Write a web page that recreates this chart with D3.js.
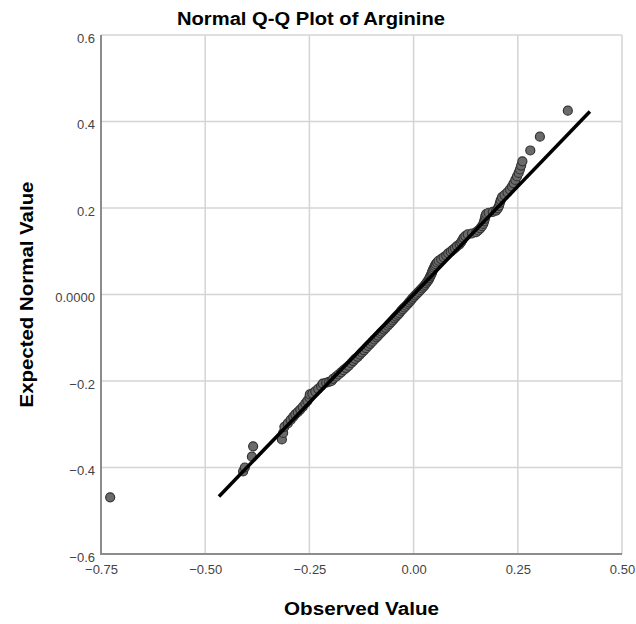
<!DOCTYPE html>
<html lang="en">
<head>
<meta charset="UTF-8">
<title>Normal Q-Q Plot of Arginine</title>
<script src="https://cdn.jsdelivr.net/npm/d3@7"></script>
<style>
  body { margin: 0; background: #fff; }
  svg { font-family: "Liberation Sans", Arial, sans-serif; }
  .grid line { stroke: #d4d4d4; stroke-width: 1.5; }
  .axis path, .axis line { display: none; }
  .axis text { font-size: 13px; fill: #444; }
</style>
</head>
<body>
<script>
var observed = [-0.728, -0.409, -0.405, -0.388, -0.385, -0.316, -0.313, -0.310, -0.302, -0.295,
  -0.289, -0.284, -0.278, -0.272, -0.266, -0.260, -0.255, -0.250, -0.249, -0.243,
  -0.236, -0.229, -0.222, -0.218, -0.210, -0.203, -0.197, -0.193, -0.186, -0.180,
  -0.174, -0.168, -0.162, -0.156, -0.150, -0.145, -0.140, -0.134, -0.129, -0.124,
  -0.119, -0.114, -0.109, -0.104, -0.099, -0.094, -0.089, -0.085, -0.080, -0.076,
  -0.071, -0.067, -0.062, -0.058, -0.054, -0.050, -0.046, -0.042, -0.038, -0.034,
  -0.030, -0.026, -0.022, -0.018, -0.014, -0.011, -0.007, -0.004, 0.000, 0.004,
  0.008, 0.012, 0.016, 0.020, 0.024, 0.027, 0.030, 0.033, 0.036, 0.038,
  0.040, 0.042, 0.044, 0.045, 0.047, 0.049, 0.051, 0.053, 0.056, 0.060,
  0.066, 0.072, 0.078, 0.083, 0.089, 0.094, 0.099, 0.104,
  0.110, 0.114, 0.117, 0.120, 0.124, 0.130, 0.140, 0.150, 0.155, 0.160,
  0.164, 0.167, 0.169, 0.171, 0.172, 0.174, 0.180, 0.190, 0.198, 0.202,
  0.205, 0.207, 0.209, 0.212, 0.218, 0.225, 0.231, 0.236, 0.240, 0.244,
  0.248, 0.252, 0.255, 0.258, 0.261, 0.280, 0.303, 0.370];
var expected = [-0.469, -0.409, -0.400, -0.375, -0.351, -0.335, -0.320, -0.306, -0.298, -0.290,
  -0.283, -0.277, -0.272, -0.266, -0.260, -0.252, -0.246, -0.238, -0.231, -0.229,
  -0.224, -0.218, -0.212, -0.206, -0.204, -0.202, -0.200, -0.195, -0.190, -0.185,
  -0.180, -0.175, -0.170, -0.165, -0.159, -0.154, -0.149, -0.144, -0.139, -0.134,
  -0.129, -0.124, -0.119, -0.114, -0.109, -0.104, -0.099, -0.095, -0.090, -0.086,
  -0.081, -0.077, -0.072, -0.068, -0.064, -0.060, -0.055, -0.051, -0.047, -0.043,
  -0.038, -0.034, -0.030, -0.026, -0.022, -0.018, -0.014, -0.010, -0.006, -0.002,
  0.002, 0.006, 0.010, 0.014, 0.018, 0.022, 0.026, 0.030, 0.034, 0.038,
  0.042, 0.046, 0.050, 0.054, 0.058, 0.062, 0.066, 0.070, 0.074, 0.078,
  0.082, 0.086, 0.090, 0.095, 0.099, 0.103, 0.107, 0.112,
  0.116, 0.121, 0.126, 0.131, 0.135, 0.139, 0.141, 0.144, 0.148, 0.153,
  0.158, 0.163, 0.169, 0.175, 0.181, 0.186, 0.189, 0.191, 0.194, 0.199,
  0.205, 0.212, 0.218, 0.225, 0.230, 0.236, 0.243, 0.250, 0.257, 0.265,
  0.273, 0.281, 0.289, 0.298, 0.308, 0.333, 0.365, 0.425];
// reference line endpoints (y = x)
var refLine = [-0.467, 0.423];
var xTicks = [-0.75, -0.50, -0.25, 0.00, 0.25, 0.50];
var yTicks = [-0.6, -0.4, -0.2, 0.0, 0.2, 0.4, 0.6];

var width = 636, height = 624;
var margin = {top: 35, right: 14, bottom: 70, left: 101};
var svg = d3.select("body").append("svg")
    .attr("width", width)
    .attr("height", height);

var x = d3.scaleLinear().domain([-0.75, 0.5]).range([margin.left, width - margin.right]);
var y = d3.scaleLinear().domain([-0.6, 0.6]).range([height - margin.bottom, margin.top]);

// grid
var grid = svg.append("g").attr("class", "grid");
grid.selectAll(".gx").data(xTicks).enter().append("line")
    .attr("x1", d => x(d)).attr("x2", d => x(d))
    .attr("y1", y(-0.6)).attr("y2", y(0.6));
grid.selectAll(".gy").data(yTicks).enter().append("line")
    .attr("x1", x(-0.75)).attr("x2", x(0.5))
    .attr("y1", d => y(d)).attr("y2", d => y(d));

// axis lines
svg.append("line").attr("x1", x(-0.75)).attr("x2", x(-0.75))
    .attr("y1", y(0.6)).attr("y2", y(-0.6) + 1)
    .attr("stroke", "#8c8c8c").attr("stroke-width", 2);
svg.append("line").attr("x1", x(-0.75) - 1).attr("x2", x(0.5))
    .attr("y1", y(-0.6)).attr("y2", y(-0.6))
    .attr("stroke", "#8c8c8c").attr("stroke-width", 2);

// tick labels
var xAxis = d3.axisBottom(x).tickValues(xTicks).tickFormat(d3.format(".2f")).tickSize(0).tickPadding(11);
svg.append("g").attr("class", "axis")
    .attr("transform", "translate(0," + y(-0.6) + ")")
    .call(xAxis);
var yAxis = d3.axisLeft(y).tickValues(yTicks)
    .tickFormat(d => d === 0 ? "0.0000" : d3.format(".1f")(d))
    .tickSize(0).tickPadding(6);
svg.append("g").attr("class", "axis")
    .attr("transform", "translate(" + x(-0.75) + ",3)")
    .call(yAxis);

// points
svg.append("g").selectAll("circle")
    .data(observed.map((d, i) => [d, expected[i]]))
    .enter().append("circle")
    .attr("cx", d => x(d[0]))
    .attr("cy", d => y(d[1]))
    .attr("r", 4.5)
    .attr("fill", "#6b6b6b")
    .attr("stroke", "#333")
    .attr("stroke-width", 1.2);

// reference line
svg.append("line")
    .attr("x1", x(refLine[0])).attr("y1", y(refLine[0]))
    .attr("x2", x(refLine[1])).attr("y2", y(refLine[1]))
    .attr("stroke", "#000").attr("stroke-width", 3.5);

// titles
svg.append("text").attr("x", 311).attr("y", 25)
    .attr("text-anchor", "middle").attr("font-weight", "bold").attr("font-size", 18)
    .attr("textLength", 268).attr("lengthAdjust", "spacingAndGlyphs")
    .text("Normal Q-Q Plot of Arginine");
svg.append("text").attr("x", (x(-0.75) + x(0.5)) / 2).attr("y", 615)
    .attr("text-anchor", "middle").attr("font-weight", "bold").attr("font-size", 18)
    .attr("textLength", 155).attr("lengthAdjust", "spacingAndGlyphs")
    .text("Observed Value");
svg.append("text")
    .attr("transform", "translate(33," + y(0) + ") rotate(-90)")
    .attr("text-anchor", "middle").attr("font-weight", "bold").attr("font-size", 18)
    .attr("textLength", 226).attr("lengthAdjust", "spacingAndGlyphs")
    .text("Expected Normal Value");
</script>
</body>
</html>
